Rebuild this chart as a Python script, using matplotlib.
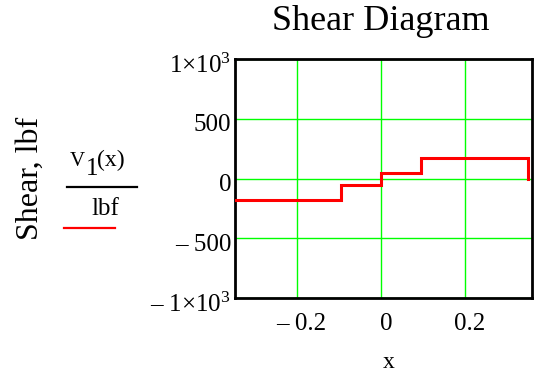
import matplotlib
matplotlib.use("Agg")
import matplotlib.pyplot as plt
import matplotlib.transforms as mtrans
from matplotlib.lines import Line2D

plt.rcParams["font.family"] = ["Liberation Serif", "DejaVu Serif"]
plt.rcParams["mathtext.fontset"] = "custom"
plt.rcParams["mathtext.rm"] = "Liberation Serif"
plt.rcParams["mathtext.it"] = "Liberation Serif:italic"

# Shear force along the beam, piecewise constant between load points
x_edges = [-0.347, -0.095, 0.0, 0.096, 0.349]
shear = [-180, -54, 48, 175]

x_ticks = [-0.2, 0.0, 0.2]
x_tick_labels = ["\u2013 0.2", "0", "0.2"]
y_ticks = [-1000, -500, 0, 500, 1000]
y_tick_labels = ["\u2013 1$\\times$10$^{3}$", "\u2013 500", "0", "500", "1$\\times$10$^{3}$"]

W, H = 536, 375
fig = plt.figure(figsize=(W / 100, H / 100), dpi=100)
ax = fig.add_axes([234.7 / W, 1 - 298 / H, (532 - 234.7) / W, (298 - 59.3) / H])

# step trace: rises at each boundary, then drops back to zero at the right end
xs = [x_edges[0]]
ys = [shear[0]]
for i, v in enumerate(shear):
    xs += [x_edges[i], x_edges[i + 1]]
    ys += [v, v]
xs.append(x_edges[-1])
ys.append(0)
ax.plot(xs, ys, color="#ff0000", lw=2.2, solid_joinstyle="miter", zorder=3)

ax.set_xlim(-0.347, 0.359)
ax.set_ylim(-1000, 1000)
ax.set_xticks(x_ticks)
ax.set_xticklabels(x_tick_labels, fontsize=18)
ax.set_yticks(y_ticks)
ax.set_yticklabels(y_tick_labels, fontsize=18)
ax.tick_params(length=0, pad=2.5)
ax.tick_params(axis="x", pad=11)
ax.grid(True, color="#00ff00", lw=1.0)
for s in ax.spines.values():
    s.set_linewidth(2.0)
    s.set_color("black")

def shift(dx, dy):
    return mtrans.ScaledTranslation(dx / 100, -dy / 100, fig.dpi_scale_trans)

for lab in ax.get_yticklabels():
    lab.set_transform(lab.get_transform() + shift(0, 4))
for lab in ax.get_xticklabels():
    lab.set_transform(lab.get_transform() + shift(5, 0))

def px(x, y):
    return x / W, 1 - y / H

fig.text(*px(381, 21), "Shear Diagram", fontsize=26, ha="center", va="center")
fig.text(*px(389, 362), "x", fontsize=17, ha="center", va="center")
fig.text(*px(30, 178), "Shear, lbf", fontsize=23, rotation=90, ha="center", va="center")

# V1(x) / lbf fraction with the series swatch beneath
fig.text(*px(70, 166), "V", fontsize=15, ha="left", va="baseline")
fig.text(*px(86, 175), "1", fontsize=18, ha="left", va="baseline")
fig.text(*px(97, 166), "(x)", fontsize=17, ha="left", va="baseline")
fig.add_artist(Line2D([67 / W, 137 / W], [1 - 187 / H, 1 - 187 / H], color="black", lw=1.6))
fig.text(*px(105, 215), "lbf", fontsize=18, ha="center", va="baseline")
fig.add_artist(Line2D([64 / W, 115 / W], [1 - 228 / H, 1 - 228 / H], color="#ff0000", lw=1.6))

fig.savefig("out.png", dpi=100)
